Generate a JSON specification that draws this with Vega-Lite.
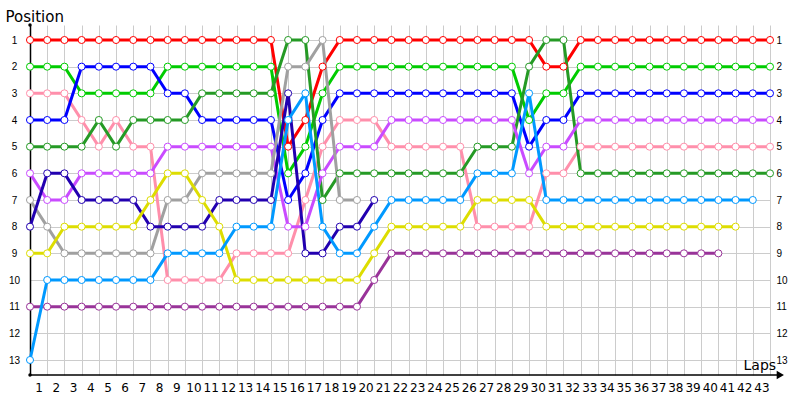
{
  "$schema": "https://vega.github.io/schema/vega-lite/v6.json",
  "width": 740,
  "height": 350,
  "autosize": {"type": "none"},
  "padding": {"left": 30, "top": 25, "right": 30, "bottom": 25},
  "background": "white",
  "config": {
    "font": "DejaVu Sans",
    "view": {"stroke": null}
  },
  "datasets": {
    "laps": [
      {"d":"Red","lap":0,"pos":1},{"d":"Red","lap":1,"pos":1},{"d":"Red","lap":2,"pos":1},{"d":"Red","lap":3,"pos":1},{"d":"Red","lap":4,"pos":1},{"d":"Red","lap":5,"pos":1},{"d":"Red","lap":6,"pos":1},{"d":"Red","lap":7,"pos":1},{"d":"Red","lap":8,"pos":1},{"d":"Red","lap":9,"pos":1},{"d":"Red","lap":10,"pos":1},{"d":"Red","lap":11,"pos":1},{"d":"Red","lap":12,"pos":1},{"d":"Red","lap":13,"pos":1},{"d":"Red","lap":14,"pos":1},{"d":"Red","lap":15,"pos":5},{"d":"Red","lap":16,"pos":4},{"d":"Red","lap":17,"pos":2},{"d":"Red","lap":18,"pos":1},{"d":"Red","lap":19,"pos":1},{"d":"Red","lap":20,"pos":1},{"d":"Red","lap":21,"pos":1},{"d":"Red","lap":22,"pos":1},{"d":"Red","lap":23,"pos":1},{"d":"Red","lap":24,"pos":1},{"d":"Red","lap":25,"pos":1},{"d":"Red","lap":26,"pos":1},{"d":"Red","lap":27,"pos":1},{"d":"Red","lap":28,"pos":1},{"d":"Red","lap":29,"pos":1},{"d":"Red","lap":30,"pos":2},{"d":"Red","lap":31,"pos":2},{"d":"Red","lap":32,"pos":1},{"d":"Red","lap":33,"pos":1},{"d":"Red","lap":34,"pos":1},{"d":"Red","lap":35,"pos":1},{"d":"Red","lap":36,"pos":1},{"d":"Red","lap":37,"pos":1},{"d":"Red","lap":38,"pos":1},{"d":"Red","lap":39,"pos":1},{"d":"Red","lap":40,"pos":1},{"d":"Red","lap":41,"pos":1},{"d":"Red","lap":42,"pos":1},{"d":"Red","lap":43,"pos":1},
      {"d":"Lime","lap":0,"pos":2},{"d":"Lime","lap":1,"pos":2},{"d":"Lime","lap":2,"pos":2},{"d":"Lime","lap":3,"pos":3},{"d":"Lime","lap":4,"pos":3},{"d":"Lime","lap":5,"pos":3},{"d":"Lime","lap":6,"pos":3},{"d":"Lime","lap":7,"pos":3},{"d":"Lime","lap":8,"pos":2},{"d":"Lime","lap":9,"pos":2},{"d":"Lime","lap":10,"pos":2},{"d":"Lime","lap":11,"pos":2},{"d":"Lime","lap":12,"pos":2},{"d":"Lime","lap":13,"pos":2},{"d":"Lime","lap":14,"pos":2},{"d":"Lime","lap":15,"pos":6},{"d":"Lime","lap":16,"pos":5},{"d":"Lime","lap":17,"pos":3},{"d":"Lime","lap":18,"pos":2},{"d":"Lime","lap":19,"pos":2},{"d":"Lime","lap":20,"pos":2},{"d":"Lime","lap":21,"pos":2},{"d":"Lime","lap":22,"pos":2},{"d":"Lime","lap":23,"pos":2},{"d":"Lime","lap":24,"pos":2},{"d":"Lime","lap":25,"pos":2},{"d":"Lime","lap":26,"pos":2},{"d":"Lime","lap":27,"pos":2},{"d":"Lime","lap":28,"pos":2},{"d":"Lime","lap":29,"pos":4},{"d":"Lime","lap":30,"pos":3},{"d":"Lime","lap":31,"pos":3},{"d":"Lime","lap":32,"pos":2},{"d":"Lime","lap":33,"pos":2},{"d":"Lime","lap":34,"pos":2},{"d":"Lime","lap":35,"pos":2},{"d":"Lime","lap":36,"pos":2},{"d":"Lime","lap":37,"pos":2},{"d":"Lime","lap":38,"pos":2},{"d":"Lime","lap":39,"pos":2},{"d":"Lime","lap":40,"pos":2},{"d":"Lime","lap":41,"pos":2},{"d":"Lime","lap":42,"pos":2},{"d":"Lime","lap":43,"pos":2},
      {"d":"Pink","lap":0,"pos":3},{"d":"Pink","lap":1,"pos":3},{"d":"Pink","lap":2,"pos":3},{"d":"Pink","lap":3,"pos":4},{"d":"Pink","lap":4,"pos":5},{"d":"Pink","lap":5,"pos":4},{"d":"Pink","lap":6,"pos":5},{"d":"Pink","lap":7,"pos":5},{"d":"Pink","lap":8,"pos":10},{"d":"Pink","lap":9,"pos":10},{"d":"Pink","lap":10,"pos":10},{"d":"Pink","lap":11,"pos":10},{"d":"Pink","lap":12,"pos":9},{"d":"Pink","lap":13,"pos":9},{"d":"Pink","lap":14,"pos":9},{"d":"Pink","lap":15,"pos":9},{"d":"Pink","lap":16,"pos":7},{"d":"Pink","lap":17,"pos":5},{"d":"Pink","lap":18,"pos":4},{"d":"Pink","lap":19,"pos":4},{"d":"Pink","lap":20,"pos":4},{"d":"Pink","lap":21,"pos":5},{"d":"Pink","lap":22,"pos":5},{"d":"Pink","lap":23,"pos":5},{"d":"Pink","lap":24,"pos":5},{"d":"Pink","lap":25,"pos":5},{"d":"Pink","lap":26,"pos":8},{"d":"Pink","lap":27,"pos":8},{"d":"Pink","lap":28,"pos":8},{"d":"Pink","lap":29,"pos":8},{"d":"Pink","lap":30,"pos":6},{"d":"Pink","lap":31,"pos":6},{"d":"Pink","lap":32,"pos":5},{"d":"Pink","lap":33,"pos":5},{"d":"Pink","lap":34,"pos":5},{"d":"Pink","lap":35,"pos":5},{"d":"Pink","lap":36,"pos":5},{"d":"Pink","lap":37,"pos":5},{"d":"Pink","lap":38,"pos":5},{"d":"Pink","lap":39,"pos":5},{"d":"Pink","lap":40,"pos":5},{"d":"Pink","lap":41,"pos":5},{"d":"Pink","lap":42,"pos":5},{"d":"Pink","lap":43,"pos":5},
      {"d":"Blue","lap":0,"pos":4},{"d":"Blue","lap":1,"pos":4},{"d":"Blue","lap":2,"pos":4},{"d":"Blue","lap":3,"pos":2},{"d":"Blue","lap":4,"pos":2},{"d":"Blue","lap":5,"pos":2},{"d":"Blue","lap":6,"pos":2},{"d":"Blue","lap":7,"pos":2},{"d":"Blue","lap":8,"pos":3},{"d":"Blue","lap":9,"pos":3},{"d":"Blue","lap":10,"pos":4},{"d":"Blue","lap":11,"pos":4},{"d":"Blue","lap":12,"pos":4},{"d":"Blue","lap":13,"pos":4},{"d":"Blue","lap":14,"pos":4},{"d":"Blue","lap":15,"pos":7},{"d":"Blue","lap":16,"pos":6},{"d":"Blue","lap":17,"pos":4},{"d":"Blue","lap":18,"pos":3},{"d":"Blue","lap":19,"pos":3},{"d":"Blue","lap":20,"pos":3},{"d":"Blue","lap":21,"pos":3},{"d":"Blue","lap":22,"pos":3},{"d":"Blue","lap":23,"pos":3},{"d":"Blue","lap":24,"pos":3},{"d":"Blue","lap":25,"pos":3},{"d":"Blue","lap":26,"pos":3},{"d":"Blue","lap":27,"pos":3},{"d":"Blue","lap":28,"pos":3},{"d":"Blue","lap":29,"pos":5},{"d":"Blue","lap":30,"pos":4},{"d":"Blue","lap":31,"pos":4},{"d":"Blue","lap":32,"pos":3},{"d":"Blue","lap":33,"pos":3},{"d":"Blue","lap":34,"pos":3},{"d":"Blue","lap":35,"pos":3},{"d":"Blue","lap":36,"pos":3},{"d":"Blue","lap":37,"pos":3},{"d":"Blue","lap":38,"pos":3},{"d":"Blue","lap":39,"pos":3},{"d":"Blue","lap":40,"pos":3},{"d":"Blue","lap":41,"pos":3},{"d":"Blue","lap":42,"pos":3},{"d":"Blue","lap":43,"pos":3},
      {"d":"DarkGreen","lap":0,"pos":5},{"d":"DarkGreen","lap":1,"pos":5},{"d":"DarkGreen","lap":2,"pos":5},{"d":"DarkGreen","lap":3,"pos":5},{"d":"DarkGreen","lap":4,"pos":4},{"d":"DarkGreen","lap":5,"pos":5},{"d":"DarkGreen","lap":6,"pos":4},{"d":"DarkGreen","lap":7,"pos":4},{"d":"DarkGreen","lap":8,"pos":4},{"d":"DarkGreen","lap":9,"pos":4},{"d":"DarkGreen","lap":10,"pos":3},{"d":"DarkGreen","lap":11,"pos":3},{"d":"DarkGreen","lap":12,"pos":3},{"d":"DarkGreen","lap":13,"pos":3},{"d":"DarkGreen","lap":14,"pos":3},{"d":"DarkGreen","lap":15,"pos":1},{"d":"DarkGreen","lap":16,"pos":1},{"d":"DarkGreen","lap":17,"pos":7},{"d":"DarkGreen","lap":18,"pos":6},{"d":"DarkGreen","lap":19,"pos":6},{"d":"DarkGreen","lap":20,"pos":6},{"d":"DarkGreen","lap":21,"pos":6},{"d":"DarkGreen","lap":22,"pos":6},{"d":"DarkGreen","lap":23,"pos":6},{"d":"DarkGreen","lap":24,"pos":6},{"d":"DarkGreen","lap":25,"pos":6},{"d":"DarkGreen","lap":26,"pos":5},{"d":"DarkGreen","lap":27,"pos":5},{"d":"DarkGreen","lap":28,"pos":5},{"d":"DarkGreen","lap":29,"pos":2},{"d":"DarkGreen","lap":30,"pos":1},{"d":"DarkGreen","lap":31,"pos":1},{"d":"DarkGreen","lap":32,"pos":6},{"d":"DarkGreen","lap":33,"pos":6},{"d":"DarkGreen","lap":34,"pos":6},{"d":"DarkGreen","lap":35,"pos":6},{"d":"DarkGreen","lap":36,"pos":6},{"d":"DarkGreen","lap":37,"pos":6},{"d":"DarkGreen","lap":38,"pos":6},{"d":"DarkGreen","lap":39,"pos":6},{"d":"DarkGreen","lap":40,"pos":6},{"d":"DarkGreen","lap":41,"pos":6},{"d":"DarkGreen","lap":42,"pos":6},{"d":"DarkGreen","lap":43,"pos":6},
      {"d":"Violet","lap":0,"pos":6},{"d":"Violet","lap":1,"pos":7},{"d":"Violet","lap":2,"pos":7},{"d":"Violet","lap":3,"pos":6},{"d":"Violet","lap":4,"pos":6},{"d":"Violet","lap":5,"pos":6},{"d":"Violet","lap":6,"pos":6},{"d":"Violet","lap":7,"pos":6},{"d":"Violet","lap":8,"pos":5},{"d":"Violet","lap":9,"pos":5},{"d":"Violet","lap":10,"pos":5},{"d":"Violet","lap":11,"pos":5},{"d":"Violet","lap":12,"pos":5},{"d":"Violet","lap":13,"pos":5},{"d":"Violet","lap":14,"pos":5},{"d":"Violet","lap":15,"pos":8},{"d":"Violet","lap":16,"pos":8},{"d":"Violet","lap":17,"pos":6},{"d":"Violet","lap":18,"pos":5},{"d":"Violet","lap":19,"pos":5},{"d":"Violet","lap":20,"pos":5},{"d":"Violet","lap":21,"pos":4},{"d":"Violet","lap":22,"pos":4},{"d":"Violet","lap":23,"pos":4},{"d":"Violet","lap":24,"pos":4},{"d":"Violet","lap":25,"pos":4},{"d":"Violet","lap":26,"pos":4},{"d":"Violet","lap":27,"pos":4},{"d":"Violet","lap":28,"pos":4},{"d":"Violet","lap":29,"pos":6},{"d":"Violet","lap":30,"pos":5},{"d":"Violet","lap":31,"pos":5},{"d":"Violet","lap":32,"pos":4},{"d":"Violet","lap":33,"pos":4},{"d":"Violet","lap":34,"pos":4},{"d":"Violet","lap":35,"pos":4},{"d":"Violet","lap":36,"pos":4},{"d":"Violet","lap":37,"pos":4},{"d":"Violet","lap":38,"pos":4},{"d":"Violet","lap":39,"pos":4},{"d":"Violet","lap":40,"pos":4},{"d":"Violet","lap":41,"pos":4},{"d":"Violet","lap":42,"pos":4},{"d":"Violet","lap":43,"pos":4},
      {"d":"Gray","lap":0,"pos":7},{"d":"Gray","lap":1,"pos":8},{"d":"Gray","lap":2,"pos":9},{"d":"Gray","lap":3,"pos":9},{"d":"Gray","lap":4,"pos":9},{"d":"Gray","lap":5,"pos":9},{"d":"Gray","lap":6,"pos":9},{"d":"Gray","lap":7,"pos":9},{"d":"Gray","lap":8,"pos":7},{"d":"Gray","lap":9,"pos":7},{"d":"Gray","lap":10,"pos":6},{"d":"Gray","lap":11,"pos":6},{"d":"Gray","lap":12,"pos":6},{"d":"Gray","lap":13,"pos":6},{"d":"Gray","lap":14,"pos":6},{"d":"Gray","lap":15,"pos":2},{"d":"Gray","lap":16,"pos":2},{"d":"Gray","lap":17,"pos":1},{"d":"Gray","lap":18,"pos":7},{"d":"Gray","lap":19,"pos":7},
      {"d":"Navy","lap":0,"pos":8},{"d":"Navy","lap":1,"pos":6},{"d":"Navy","lap":2,"pos":6},{"d":"Navy","lap":3,"pos":7},{"d":"Navy","lap":4,"pos":7},{"d":"Navy","lap":5,"pos":7},{"d":"Navy","lap":6,"pos":7},{"d":"Navy","lap":7,"pos":8},{"d":"Navy","lap":8,"pos":8},{"d":"Navy","lap":9,"pos":8},{"d":"Navy","lap":10,"pos":8},{"d":"Navy","lap":11,"pos":7},{"d":"Navy","lap":12,"pos":7},{"d":"Navy","lap":13,"pos":7},{"d":"Navy","lap":14,"pos":7},{"d":"Navy","lap":15,"pos":3},{"d":"Navy","lap":16,"pos":9},{"d":"Navy","lap":17,"pos":9},{"d":"Navy","lap":18,"pos":8},{"d":"Navy","lap":19,"pos":8},{"d":"Navy","lap":20,"pos":7},
      {"d":"Yellow","lap":0,"pos":9},{"d":"Yellow","lap":1,"pos":9},{"d":"Yellow","lap":2,"pos":8},{"d":"Yellow","lap":3,"pos":8},{"d":"Yellow","lap":4,"pos":8},{"d":"Yellow","lap":5,"pos":8},{"d":"Yellow","lap":6,"pos":8},{"d":"Yellow","lap":7,"pos":7},{"d":"Yellow","lap":8,"pos":6},{"d":"Yellow","lap":9,"pos":6},{"d":"Yellow","lap":10,"pos":7},{"d":"Yellow","lap":11,"pos":8},{"d":"Yellow","lap":12,"pos":10},{"d":"Yellow","lap":13,"pos":10},{"d":"Yellow","lap":14,"pos":10},{"d":"Yellow","lap":15,"pos":10},{"d":"Yellow","lap":16,"pos":10},{"d":"Yellow","lap":17,"pos":10},{"d":"Yellow","lap":18,"pos":10},{"d":"Yellow","lap":19,"pos":10},{"d":"Yellow","lap":20,"pos":9},{"d":"Yellow","lap":21,"pos":8},{"d":"Yellow","lap":22,"pos":8},{"d":"Yellow","lap":23,"pos":8},{"d":"Yellow","lap":24,"pos":8},{"d":"Yellow","lap":25,"pos":8},{"d":"Yellow","lap":26,"pos":7},{"d":"Yellow","lap":27,"pos":7},{"d":"Yellow","lap":28,"pos":7},{"d":"Yellow","lap":29,"pos":7},{"d":"Yellow","lap":30,"pos":8},{"d":"Yellow","lap":31,"pos":8},{"d":"Yellow","lap":32,"pos":8},{"d":"Yellow","lap":33,"pos":8},{"d":"Yellow","lap":34,"pos":8},{"d":"Yellow","lap":35,"pos":8},{"d":"Yellow","lap":36,"pos":8},{"d":"Yellow","lap":37,"pos":8},{"d":"Yellow","lap":38,"pos":8},{"d":"Yellow","lap":39,"pos":8},{"d":"Yellow","lap":40,"pos":8},{"d":"Yellow","lap":41,"pos":8},
      {"d":"Plum","lap":0,"pos":11},{"d":"Plum","lap":1,"pos":11},{"d":"Plum","lap":2,"pos":11},{"d":"Plum","lap":3,"pos":11},{"d":"Plum","lap":4,"pos":11},{"d":"Plum","lap":5,"pos":11},{"d":"Plum","lap":6,"pos":11},{"d":"Plum","lap":7,"pos":11},{"d":"Plum","lap":8,"pos":11},{"d":"Plum","lap":9,"pos":11},{"d":"Plum","lap":10,"pos":11},{"d":"Plum","lap":11,"pos":11},{"d":"Plum","lap":12,"pos":11},{"d":"Plum","lap":13,"pos":11},{"d":"Plum","lap":14,"pos":11},{"d":"Plum","lap":15,"pos":11},{"d":"Plum","lap":16,"pos":11},{"d":"Plum","lap":17,"pos":11},{"d":"Plum","lap":18,"pos":11},{"d":"Plum","lap":19,"pos":11},{"d":"Plum","lap":20,"pos":10},{"d":"Plum","lap":21,"pos":9},{"d":"Plum","lap":22,"pos":9},{"d":"Plum","lap":23,"pos":9},{"d":"Plum","lap":24,"pos":9},{"d":"Plum","lap":25,"pos":9},{"d":"Plum","lap":26,"pos":9},{"d":"Plum","lap":27,"pos":9},{"d":"Plum","lap":28,"pos":9},{"d":"Plum","lap":29,"pos":9},{"d":"Plum","lap":30,"pos":9},{"d":"Plum","lap":31,"pos":9},{"d":"Plum","lap":32,"pos":9},{"d":"Plum","lap":33,"pos":9},{"d":"Plum","lap":34,"pos":9},{"d":"Plum","lap":35,"pos":9},{"d":"Plum","lap":36,"pos":9},{"d":"Plum","lap":37,"pos":9},{"d":"Plum","lap":38,"pos":9},{"d":"Plum","lap":39,"pos":9},{"d":"Plum","lap":40,"pos":9},
      {"d":"SkyBlue","lap":0,"pos":13},{"d":"SkyBlue","lap":1,"pos":10},{"d":"SkyBlue","lap":2,"pos":10},{"d":"SkyBlue","lap":3,"pos":10},{"d":"SkyBlue","lap":4,"pos":10},{"d":"SkyBlue","lap":5,"pos":10},{"d":"SkyBlue","lap":6,"pos":10},{"d":"SkyBlue","lap":7,"pos":10},{"d":"SkyBlue","lap":8,"pos":9},{"d":"SkyBlue","lap":9,"pos":9},{"d":"SkyBlue","lap":10,"pos":9},{"d":"SkyBlue","lap":11,"pos":9},{"d":"SkyBlue","lap":12,"pos":8},{"d":"SkyBlue","lap":13,"pos":8},{"d":"SkyBlue","lap":14,"pos":8},{"d":"SkyBlue","lap":15,"pos":4},{"d":"SkyBlue","lap":16,"pos":3},{"d":"SkyBlue","lap":17,"pos":8},{"d":"SkyBlue","lap":18,"pos":9},{"d":"SkyBlue","lap":19,"pos":9},{"d":"SkyBlue","lap":20,"pos":8},{"d":"SkyBlue","lap":21,"pos":7},{"d":"SkyBlue","lap":22,"pos":7},{"d":"SkyBlue","lap":23,"pos":7},{"d":"SkyBlue","lap":24,"pos":7},{"d":"SkyBlue","lap":25,"pos":7},{"d":"SkyBlue","lap":26,"pos":6},{"d":"SkyBlue","lap":27,"pos":6},{"d":"SkyBlue","lap":28,"pos":6},{"d":"SkyBlue","lap":29,"pos":3},{"d":"SkyBlue","lap":30,"pos":7},{"d":"SkyBlue","lap":31,"pos":7},{"d":"SkyBlue","lap":32,"pos":7},{"d":"SkyBlue","lap":33,"pos":7},{"d":"SkyBlue","lap":34,"pos":7},{"d":"SkyBlue","lap":35,"pos":7},{"d":"SkyBlue","lap":36,"pos":7},{"d":"SkyBlue","lap":37,"pos":7},{"d":"SkyBlue","lap":38,"pos":7},{"d":"SkyBlue","lap":39,"pos":7},{"d":"SkyBlue","lap":40,"pos":7},{"d":"SkyBlue","lap":41,"pos":7},{"d":"SkyBlue","lap":42,"pos":7}
    ],
    "one": [{}]
  },
  "layer": [
    {
      "data": {"name": "laps"},
      "mark": {"type": "line", "strokeWidth": 3, "interpolate": "linear"},
      "encoding": {
        "x": {
          "field": "lap", "type": "quantitative",
          "scale": {"domain": [0, 43], "nice": false, "zero": false},
          "axis": {
            "values": [0,1,2,3,4,5,6,7,8,9,10,11,12,13,14,15,16,17,18,19,20,21,22,23,24,25,26,27,28,29,30,31,32,33,34,35,36,37,38,39,40,41,42,43],
            "labelExpr": "datum.value == 0 ? '' : datum.label",
            "labelOffset": -8.6, "labelPadding": 7, "labelFontSize": 12, "labelColor": "#000000",
            "labelFlush": false, "labelOverlap": false, "labelBound": false, "labelSeparation": 0,
            "ticks": false, "domain": false,
            "grid": true, "gridColor": "#cccccc", "gridWidth": 1,
            "title": "Laps", "titleAngle": 0, "titleAlign": "left", "titleBaseline": "alphabetic",
            "titleX": 713, "titleY": -6, "titleFontSize": 14, "titleFontWeight": "normal", "titleColor": "#000000"
          }
        },
        "y": {
          "field": "pos", "type": "quantitative",
          "scale": {"domain": [0.4375, 13.5625], "nice": false, "zero": false, "reverse": true},
          "axis": {
            "orient": "left",
            "values": [1,2,3,4,5,6,7,8,9,10,11,12,13],
            "labelAlign": "center", "labelPadding": 16, "labelFontSize": 10, "labelColor": "#000000",
            "labelFont": "Liberation Sans",
            "ticks": false, "domain": true, "domainColor": "#000000", "domainWidth": 1.5,
            "grid": true, "gridColor": "#cccccc", "gridWidth": 1,
            "title": "Position", "titleAngle": 0, "titleAlign": "left", "titleBaseline": "alphabetic",
            "titleX": -25, "titleY": -4, "titleFontSize": 15, "titleFontWeight": "normal", "titleColor": "#000000"
          }
        },
        "color": {
          "field": "d", "type": "nominal", "legend": null,
          "scale": {
            "domain": ["Red","Lime","Pink","Blue","DarkGreen","Violet","Gray","Navy","Yellow","Plum","SkyBlue"],
            "range": ["#ff0000","#00cc00","#ff8fab","#0000ff","#259a25","#c94bff","#a0a0a0","#2200b0","#dddd00","#993399","#0099ff"]
          }
        },
        "detail": {"field": "d"}
      }
    },
    {
      "data": {"name": "laps"},
      "mark": {"type": "point", "shape": "circle", "filled": true, "fill": "white", "fillOpacity": 1, "opacity": 1, "strokeWidth": 1, "size": 50},
      "encoding": {
        "x": {"field": "lap", "type": "quantitative", "axis": null},
        "y": {
          "field": "pos", "type": "quantitative",
          "axis": {
            "orient": "right",
            "values": [1,2,3,4,5,6,7,8,9,10,11,12,13],
            "labelAlign": "left", "labelPadding": 6, "labelFontSize": 10, "labelColor": "#000000",
            "labelFont": "Liberation Sans",
            "ticks": false, "domain": false, "grid": false, "title": null
          }
        },
        "stroke": {
          "field": "d", "type": "nominal", "legend": null,
          "scale": {
            "domain": ["Red","Lime","Pink","Blue","DarkGreen","Violet","Gray","Navy","Yellow","Plum","SkyBlue"],
            "range": ["#ff0000","#00cc00","#ff8fab","#0000ff","#259a25","#c94bff","#a0a0a0","#2200b0","#dddd00","#993399","#0099ff"]
          }
        }
      }
    },
    {
      "data": {"name": "one"},
      "mark": {"type": "rule", "color": "#000000", "strokeWidth": 1.5},
      "encoding": {
        "x": {"datum": 0, "axis": null},
        "x2": {"datum": 43.6},
        "y": {"datum": 13.5625, "axis": null}
      }
    },
    {
      "data": {"name": "one"},
      "mark": {"type": "point", "shape": "triangle-right", "filled": true, "color": "#000000", "opacity": 1, "size": 70},
      "encoding": {
        "x": {"datum": 43.6, "axis": null},
        "y": {"datum": 13.5625, "axis": null}
      }
    },
    {
      "data": {"name": "one"},
      "mark": {"type": "point", "shape": "circle", "filled": true, "color": "#000000", "opacity": 1, "size": 12},
      "encoding": {
        "x": {"datum": 0, "axis": null},
        "y": {"datum": 0.4375, "axis": null}
      }
    },
    {
      "data": {"name": "one"},
      "mark": {"type": "point", "shape": "circle", "filled": true, "color": "#000000", "opacity": 1, "size": 12},
      "encoding": {
        "x": {"datum": 0, "axis": null},
        "y": {"datum": 13.5625, "axis": null}
      }
    }
  ],
  "resolve": {"axis": {"x": "independent", "y": "independent"}}
}
